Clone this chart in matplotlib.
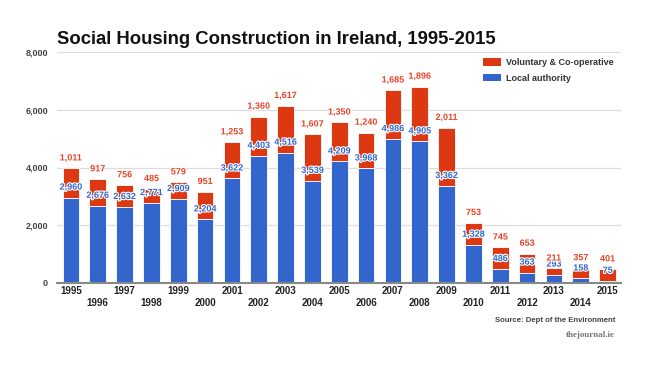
import matplotlib
matplotlib.use("Agg")
import matplotlib.pyplot as plt
import matplotlib.patheffects as pe
from matplotlib.patches import Patch

years = [str(y) for y in range(1995, 2016)]
local = [2960, 2676, 2632, 2771, 2909, 2204, 3622, 4403, 4516, 3539, 4209,
         3968, 4986, 4905, 3362, 1328, 486, 363, 293, 158, 75]
voluntary = [1011, 917, 756, 485, 579, 951, 1253, 1360, 1617, 1607, 1350,
             1240, 1685, 1896, 2011, 753, 745, 653, 211, 357, 401]
yticks = [0, 2000, 4000, 6000, 8000]

RED = "#DC3912"
BLUE = "#3366CC"
FONT = "Liberation Sans"
plt.rcParams["font.family"] = [FONT, "DejaVu Sans"]

fig = plt.figure(figsize=(6.5, 3.68), dpi=100)
ax = fig.add_axes([57/650, 1-283/368, (621-57)/650, (283-52)/368])

x = list(range(len(years)))
w = 0.62
ax.bar(x, local, width=w, color=BLUE, edgecolor="white", linewidth=0.6, zorder=2)
ax.bar(x, voluntary, width=w, bottom=local, color=RED, edgecolor="white", linewidth=0.6, zorder=2)

stroke = [pe.withStroke(linewidth=1.6, foreground="white")]
for i in x:
    ax.annotate(f"{local[i]:,}", (i, local[i]), xytext=(0, 7.5), textcoords="offset points",
                ha="center", va="center", fontsize=6.5, fontweight="bold", color=BLUE,
                path_effects=stroke, zorder=4)
    ax.annotate(f"{voluntary[i]:,}", (i, local[i] + voluntary[i]), xytext=(0, 7.5),
                textcoords="offset points", ha="center", va="center", fontsize=6.5,
                fontweight="bold", color="#E8442A", path_effects=stroke, zorder=5)

ax.set_ylim(0, 8000)
ax.set_xlim(-0.52, 20.5)
ax.set_yticks(yticks)
ax.set_yticklabels([f"{v:,}" for v in yticks], fontsize=6.5, fontweight="bold", color="#444444")
ax.set_xticks([])
for i in x:
    dy = -6.0 if i % 2 == 0 else -14.6
    ax.annotate(years[i], (i, 0), xytext=(0, dy), textcoords="offset points",
                ha="center", va="center", fontsize=7, fontweight="bold", color="#222222",
                annotation_clip=False)
ax.tick_params(axis="y", length=0, pad=6.5)
ax.grid(axis="y", color="#DDDDDD", linewidth=0.9, zorder=0)
ax.set_axisbelow(True)
for s in ["left", "right", "top"]:
    ax.spines[s].set_visible(False)
ax.spines["bottom"].set_color("#888888")
ax.spines["bottom"].set_linewidth(1.5)
ax.spines["bottom"].set_zorder(3)

fig.text(57/650, 1-39/368, "Social Housing Construction in Ireland, 1995-2015",
         fontsize=13.3, fontweight="bold", color="#111111", va="center", ha="left")

handles = [Patch(facecolor=RED, edgecolor="none", label="Voluntary & Co-operative"),
           Patch(facecolor=BLUE, edgecolor="none", label="Local authority")]
leg = ax.legend(handles=handles, loc="upper left", bbox_to_anchor=(483/650, 1-58/368),
                bbox_transform=fig.transFigure, frameon=False, fontsize=6.5,
                handlelength=2.0, handleheight=0.9, handletextpad=0.6,
                borderpad=0, borderaxespad=0, labelspacing=0.75)
for t in leg.get_texts():
    t.set_fontweight("bold")
    t.set_color("#333333")

fig.text(615/650, 1-321/368, "Source: Dept of the Environment", fontsize=5.6,
         fontweight="bold", color="#444444", ha="right", va="center")
fig.text(615/650, 1-335/368, "thejournal.ie", fontsize=6.5, fontweight="bold",
         family=["Liberation Serif", "DejaVu Serif"], color="#777777", ha="right", va="center")

fig.savefig("out.png", dpi=100, facecolor="white")
